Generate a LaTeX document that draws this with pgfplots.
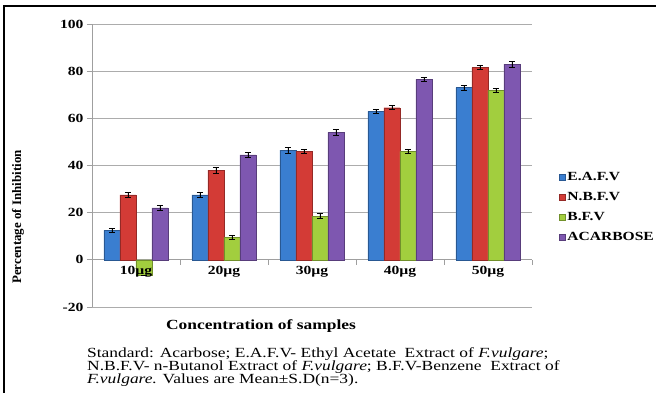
\documentclass[border=0pt]{standalone}
\usepackage{pgfplots}
\pgfplotsset{compat=1.18}
\usepackage{pgfplotstable}
\usepackage{fontspec}
\setmainfont{Liberation Serif}[FakeStretch=1.25]
\newfontfamily\ylfont{Liberation Serif}
\definecolor{cblue}{HTML}{3A7ED0}
\definecolor{cred}{HTML}{D33B36}
\definecolor{cgreen}{HTML}{A2CE3E}
\definecolor{cpurple}{HTML}{7E57B0}
\pgfplotstableread{
x eafv e1 nbfv e2 bfv e3 aca e4
0 12.5 1.0 27.5 1.0 -6.5 0.0 22.0 1.0
1 27.5 1.2 38.0 1.2 9.5 1.0 44.5 1.0
2 46.5 1.2 46.0 0.8 18.5 1.0 54.0 1.2
3 63.0 1.0 64.5 0.8 46.0 1.0 76.5 1.0
4 73.0 1.0 81.5 0.8 72.0 0.8 83.0 1.2
}\datatable
\tikzset{
  barsty/.style={draw=#1!70!black, line width=0.4pt, fill=#1},
}
\pgfplotsset{
  legimg/.style={legend image code/.code={\fill[##1] (0bp,-3bp) rectangle (6bp,3bp);}},
}
\begin{document}
\begin{tikzpicture}
\useasboundingbox (-92bp,-86bp) rectangle (564bp,307bp);
\begin{axis}[
  scale only axis, width=440bp, height=283bp,
  xmin=-0.5, xmax=4.5, ymin=-20, ymax=100,
  ytick={-20,0,20,40,60,80,100},
  axis x line=middle, axis y line=left,
  axis line style={-, draw=gray!75, line width=0.8pt},
  ymajorgrids, grid style={gray!65, line width=0.8pt},
  xtick={-0.5,0.5,1.5,2.5,3.5,4.5},
  xticklabels={},
  major x tick style={draw=gray!75, line width=0.8pt},
  major y tick style={draw=gray!75, line width=0.8pt},
  major tick length=5bp,
  tick align=outside,
  /pgf/number format/assume math mode=true,
  ticklabel style={font=\fontsize{12.5}{12.5}\selectfont\bfseries},
  ybar=0pt, bar width=16bp,
  legend style={at={(rel axis cs:1.062,0.485)}, anchor=north west, draw=none, fill=none,
    font=\fontsize{12.5}{12.5}\selectfont\bfseries, row sep=6.5bp, inner sep=0pt,
    legend cell align=left, nodes={inner xsep=1.5bp}},
  error bars/error bar style={black, line width=0.7pt},
  error bars/error mark options={rotate=90, mark size=3bp, black, line width=0.7pt},
  after end axis/.code={
    \foreach \i/\lab in {0/10µg,1/20µg,2/30µg,3/40µg,4/50µg}{
      \node[anchor=north, yshift=-2.5bp, font=\fontsize{12.5}{12.5}\selectfont\bfseries] at (axis cs:\i,0) {\lab};
    }
  },
]
\addplot[barsty=cblue, legimg, error bars/.cd, y dir=both, y explicit] table[x=x, y=eafv, y error=e1] {\datatable};
\addlegendentry{E.A.F.V}
\addplot[barsty=cred, legimg, error bars/.cd, y dir=both, y explicit] table[x=x, y=nbfv, y error=e2] {\datatable};
\addlegendentry{N.B.F.V}
\addplot[barsty=cgreen, legimg, error bars/.cd, y dir=both, y explicit] table[x=x, y=bfv, y error=e3] {\datatable};
\addlegendentry{B.F.V}
\addplot[barsty=cpurple, legimg, error bars/.cd, y dir=both, y explicit] table[x=x, y=aca, y error=e4] {\datatable};
\addlegendentry{ACARBOSE}
\end{axis}
\node[rotate=90, font=\fontsize{13}{13}\ylfont\bfseries] at (-74bp,90bp) {Percentage of Inhibition};
\node[font=\fontsize{14}{14}\selectfont\bfseries] at (169bp,-19bp) {Concentration of samples};
\node[anchor=base west, inner sep=0pt, font=\fontsize{14}{13}\selectfont] at (-5bp,-50bp) {Standard: Acarbose; E.A.F.V- Ethyl Acetate \ Extract of \textit{F.vulgare};};
\node[anchor=base west, inner sep=0pt, font=\fontsize{14}{13}\selectfont] at (-5bp,-63bp) {N.B.F.V- n-Butanol Extract of \textit{F.vulgare}; B.F.V-Benzene \ Extract of};
\node[anchor=base west, inner sep=0pt, font=\fontsize{14}{13}\selectfont] at (-5bp,-76bp) {\textit{F.vulgare.} Values are Mean±S.D(n=3).};
\draw[line width=2.5bp] (-88bp,-90bp) -- (-88bp,301bp) -- (570bp,301bp);
\end{tikzpicture}
\end{document}
